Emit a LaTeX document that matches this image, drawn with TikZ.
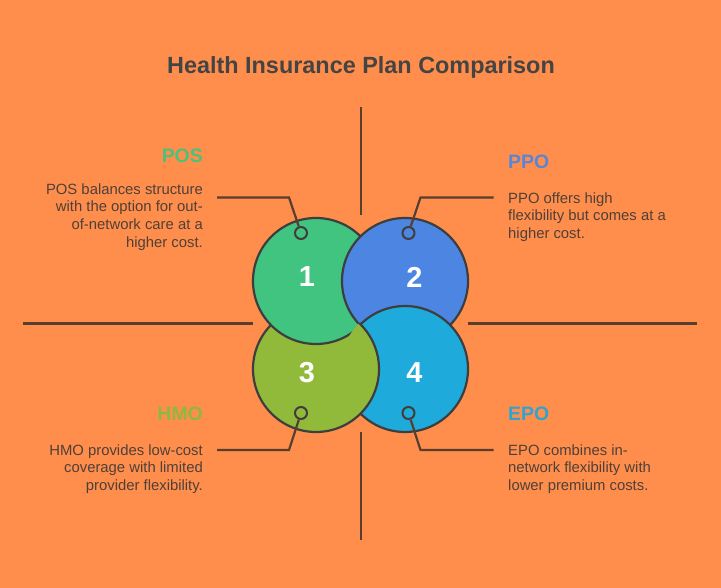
\documentclass[tikz,border=0pt]{standalone}
\usepackage{fontspec}
\setmainfont{Liberation Sans}
\definecolor{bgorange}{RGB}{255,142,76}
\definecolor{posgreen}{RGB}{64,196,128}
\definecolor{ppoblue}{RGB}{76,134,226}
\definecolor{hmoolive}{RGB}{146,186,58}
\definecolor{epocyan}{RGB}{30,170,218}
\definecolor{outline}{RGB}{62,62,62}
\definecolor{linkbrown}{RGB}{88,62,46}
\definecolor{titlegray}{RGB}{68,68,68}
\definecolor{desctext}{RGB}{78,64,56}
\definecolor{poshead}{RGB}{78,192,122}
\definecolor{ppohead}{RGB}{90,132,214}
\definecolor{hmohead}{RGB}{142,184,62}
\definecolor{epohead}{RGB}{46,164,208}
\begin{document}
\begin{tikzpicture}[x=1bp,y=1bp,
    desc/.style={inner sep=0, text=desctext, font=\fontsize{14.9}{17.6}\selectfont},
    head/.style={inner sep=0, font=\fontsize{19.5}{22}\selectfont\bfseries},
    num/.style={inner sep=0, text=white, font=\fontsize{29}{32}\selectfont\bfseries},
    dot/.style={circle, draw=outline, line width=2bp, minimum size=12bp, inner sep=0},
    link/.style={draw=linkbrown, line width=2.2bp},
    bubble/.style={draw=outline, line width=2.2bp}]
        % Define the radius of the big circles
        \def\r{63}

        % Draw the background
        \fill[bgorange] (0,0) rectangle (721,-588);

        % Write the title
        \node[font=\fontsize{23.5}{26}\selectfont\bfseries, text=titlegray, anchor=base] (title) at (361,-73.3) {Health Insurance Plan Comparison};

        % Draw the axes
        \draw[link] (361,-107) -- (361,-215);
        \draw[link] (361,-432) -- (361,-540);
        \draw[link] (23,-323.5) -- (253,-323.5);
        \draw[link] (468,-323.5) -- (697,-323.5);

        % Draw the circles
        \filldraw[bubble, fill=hmoolive] (316,-369) circle (\r);
        \filldraw[bubble, fill=posgreen] (316,-281) circle (\r);
        \filldraw[bubble, fill=ppoblue] (405,-281) circle (\r);
        \filldraw[bubble, fill=epocyan] (405,-369) circle (\r);
        % Put circle 3 back over circle 4
        \begin{scope}
            \clip (405,-369) circle (\r+1.8);
            \filldraw[bubble, fill=hmoolive] (316,-369) circle (\r);
        \end{scope}

        % Write the numbers
        \node[num] (n1) at (307,-276.7) {1};
        \node[num] (n2) at (414.3,-277.3) {2};
        \node[num] (n3) at (307,-372.7) {3};
        \node[num] (n4) at (414.3,-372.7) {4};

        % Draw the dots
        \node[dot] (posdot) at (301,-233) {};
        \node[dot] (ppodot) at (408.5,-233) {};
        \node[dot] (hmodot) at (301,-413) {};
        \node[dot] (epodot) at (408.5,-413) {};

        % Draw the connectors
        \coordinate (posbend) at (289,-197.5);
        \coordinate (posend) at (217,-197.5);
        \coordinate (ppobend) at (420.5,-197.5);
        \coordinate (ppoend) at (493.5,-197.5);
        \coordinate (hmobend) at (289,-450);
        \coordinate (hmoend) at (217,-450);
        \coordinate (epobend) at (420.5,-450);
        \coordinate (epoend) at (493.5,-450);
        \draw[link] (posdot) -- (posbend) -- (posend);
        \draw[link] (ppodot) -- (ppobend) -- (ppoend);
        \draw[link] (hmodot) -- (hmobend) -- (hmoend);
        \draw[link] (epodot) -- (epobend) -- (epoend);

        % Write the plans
        \node[head, text=poshead, anchor=east] (pos) at (203,-156) {POS};
        \node[desc, align=right, anchor=north east] (posdesc) at (203,-183.5) {POS balances structure\\with the option for out-\\of-network care at a\\higher cost.};
        \node[head, text=ppohead, anchor=west] (ppo) at (508,-161.7) {PPO};
        \node[desc, align=left, anchor=north west] (ppodesc) at (508,-192.5) {PPO offers high\\flexibility but comes at a\\higher cost.};
        \node[head, text=hmohead, anchor=east] (hmo) at (203,-414) {HMO};
        \node[desc, align=right, anchor=north east] (hmodesc) at (203,-444.5) {HMO provides low-cost\\coverage with limited\\provider flexibility.};
        \node[head, text=epohead, anchor=west] (epo) at (508,-414) {EPO};
        \node[desc, align=left, anchor=north west] (epodesc) at (508,-444.5) {EPO combines in-\\network flexibility with\\lower premium costs.};

      \end{tikzpicture}
\end{document}
